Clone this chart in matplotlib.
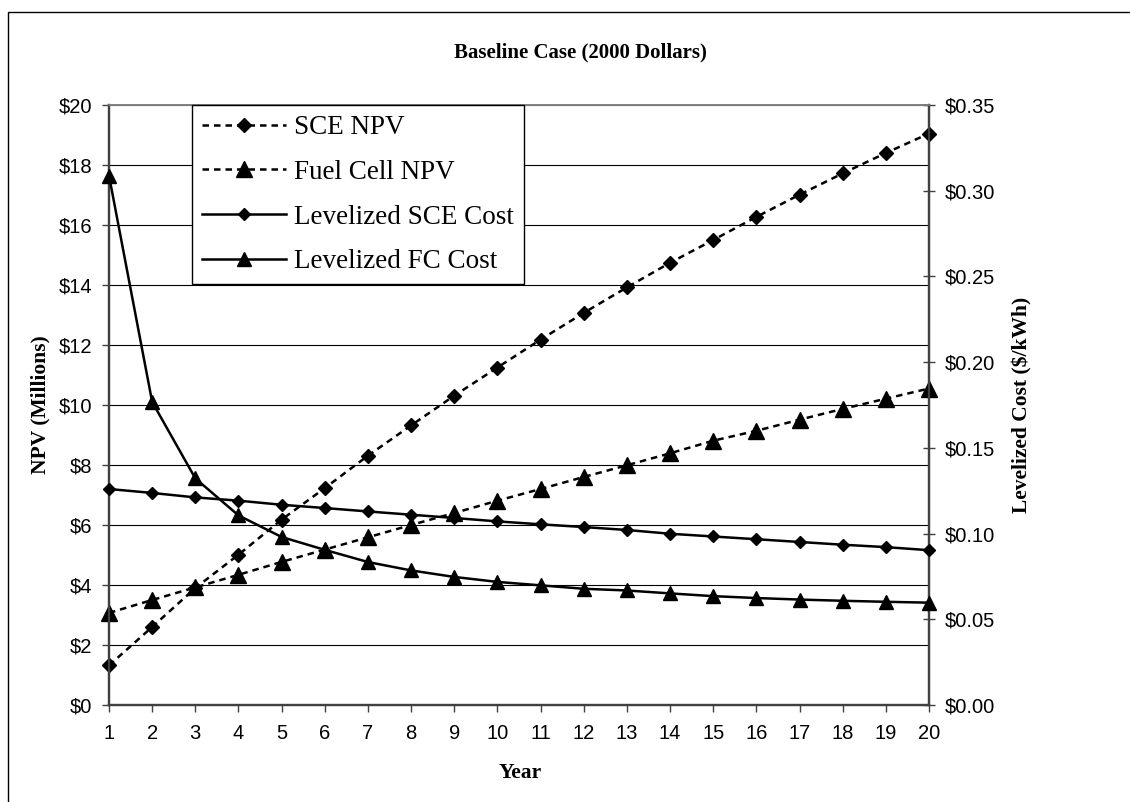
import matplotlib
matplotlib.use("Agg")
import matplotlib.pyplot as plt
from matplotlib.patches import Rectangle
from matplotlib.ticker import FuncFormatter, MultipleLocator

# years and series (NPV in $ millions, levelized cost in $/kWh)
years = list(range(1, 21))
sce_npv = [1.32, 2.60, 3.90, 5.01, 6.18, 7.23, 8.31, 9.32, 10.31, 11.25,
           12.18, 13.07, 13.92, 14.74, 15.50, 16.27, 17.01, 17.72, 18.40, 19.05]
fc_npv = [3.07, 3.50, 3.92, 4.34, 4.77, 5.18, 5.59, 6.00, 6.40, 6.81,
          7.20, 7.60, 7.99, 8.39, 8.81, 9.14, 9.51, 9.87, 10.21, 10.55]
lev_sce = [0.1260, 0.1237, 0.1211, 0.1192, 0.1168, 0.1149, 0.1129, 0.1110, 0.1091, 0.1071,
           0.1054, 0.1038, 0.1021, 0.0999, 0.0983, 0.0967, 0.0951, 0.0935, 0.0921, 0.0903]
lev_fc = [0.3088, 0.1768, 0.1322, 0.1106, 0.0980, 0.0905, 0.0834, 0.0785, 0.0747, 0.0718,
          0.0698, 0.0678, 0.0668, 0.0651, 0.0635, 0.0624, 0.0615, 0.0608, 0.0602, 0.0597]

serif = "Liberation Serif"
sans = "Liberation Sans"

fig = plt.figure(figsize=(11.3, 8.02), dpi=100)
ax = fig.add_axes([109 / 1130, 1 - 705 / 802, 820 / 1130, 600 / 802])
ax2 = ax.twinx()

dash = (0, (2.6, 2.0))
lw = 1.8
h1, = ax.plot(years, sce_npv, color="black", lw=lw, ls=dash, marker="D", ms=7.4,
              clip_on=False, zorder=5, label="SCE NPV")
h2, = ax.plot(years, fc_npv, color="black", lw=lw, ls=dash, marker="^", ms=11,
              clip_on=False, zorder=5, label="Fuel Cell NPV")
h3, = ax2.plot(years, lev_sce, color="black", lw=lw, ls="-", marker="D", ms=5.8,
               clip_on=False, zorder=5, label="Levelized SCE Cost")
h4, = ax2.plot(years, lev_fc, color="black", lw=lw, ls="-", marker="^", ms=10,
               clip_on=False, zorder=5, label="Levelized FC Cost")

# axes ranges and ticks
ax.set_xlim(1, 20)
ax.set_ylim(0, 20)
ax2.set_ylim(0, 0.35)
ax.set_xticks(years)
ax.yaxis.set_major_locator(MultipleLocator(2))
ax2.yaxis.set_major_locator(MultipleLocator(0.05))
ax.yaxis.set_major_formatter(FuncFormatter(lambda v, p: f"${v:.0f}"))
ax2.yaxis.set_major_formatter(FuncFormatter(lambda v, p: f"${v:.2f}"))

ax.grid(axis="y", color="black", lw=0.8)
ax.set_axisbelow(True)

for a in (ax, ax2):
    for s in a.spines.values():
        s.set_color("#404040")
        s.set_linewidth(1.6)
    a.spines["top"].set_color("#808080")
    a.spines["top"].set_linewidth(1.2)

ax.tick_params(axis="y", direction="out", length=5, width=1, color="#404040",
               labelsize=14.5, pad=7)
ax.tick_params(axis="x", direction="out", length=5, width=1, color="#404040",
               labelsize=14.5, pad=9)
ax2.tick_params(axis="y", direction="inout", length=9, width=1, color="#404040",
                labelsize=14.5, pad=7)
for lab in ax.get_xticklabels() + ax.get_yticklabels() + ax2.get_yticklabels():
    lab.set_family(sans)

# titles
fig.text(580 / 1130, 1 - 52 / 802, "Baseline Case (2000 Dollars)", ha="center", va="center",
         family=serif, weight="bold", fontsize=15)
fig.text(520 / 1130, 1 - 773 / 802, "Year", ha="center", va="center",
         family=serif, weight="bold", fontsize=15.5)
fig.text(40 / 1130, 1 - 405 / 802, "NPV (Millions)", ha="center", va="center",
         rotation=90, family=serif, weight="bold", fontsize=15.5)
fig.text(1022 / 1130, 1 - 405 / 802, "Levelized Cost ($/kWh)", ha="center", va="center",
         rotation=90, family=serif, weight="bold", fontsize=15.5)

leg = ax2.legend(handles=[h1, h2, h3, h4], loc="upper left",
                 bbox_to_anchor=(192 / 1130, 1 - 105 / 802), bbox_transform=fig.transFigure,
                 borderaxespad=0, fancybox=False, framealpha=1, edgecolor="black",
                 prop={"family": serif, "size": 19.5}, handlelength=3.1, handletextpad=0.3,
                 borderpad=0.37, labelspacing=0.73, numpoints=1)
leg.get_frame().set_linewidth(1.0)
leg.set_zorder(10)

# chart area border (open to the right and bottom)
fig.add_artist(Rectangle((8 / 1130, -0.05), 1.1, 1 - 12 / 802 + 0.05,
                         transform=fig.transFigure, fill=False, ec="black", lw=1.0))

fig.savefig("out.png", dpi=100)
